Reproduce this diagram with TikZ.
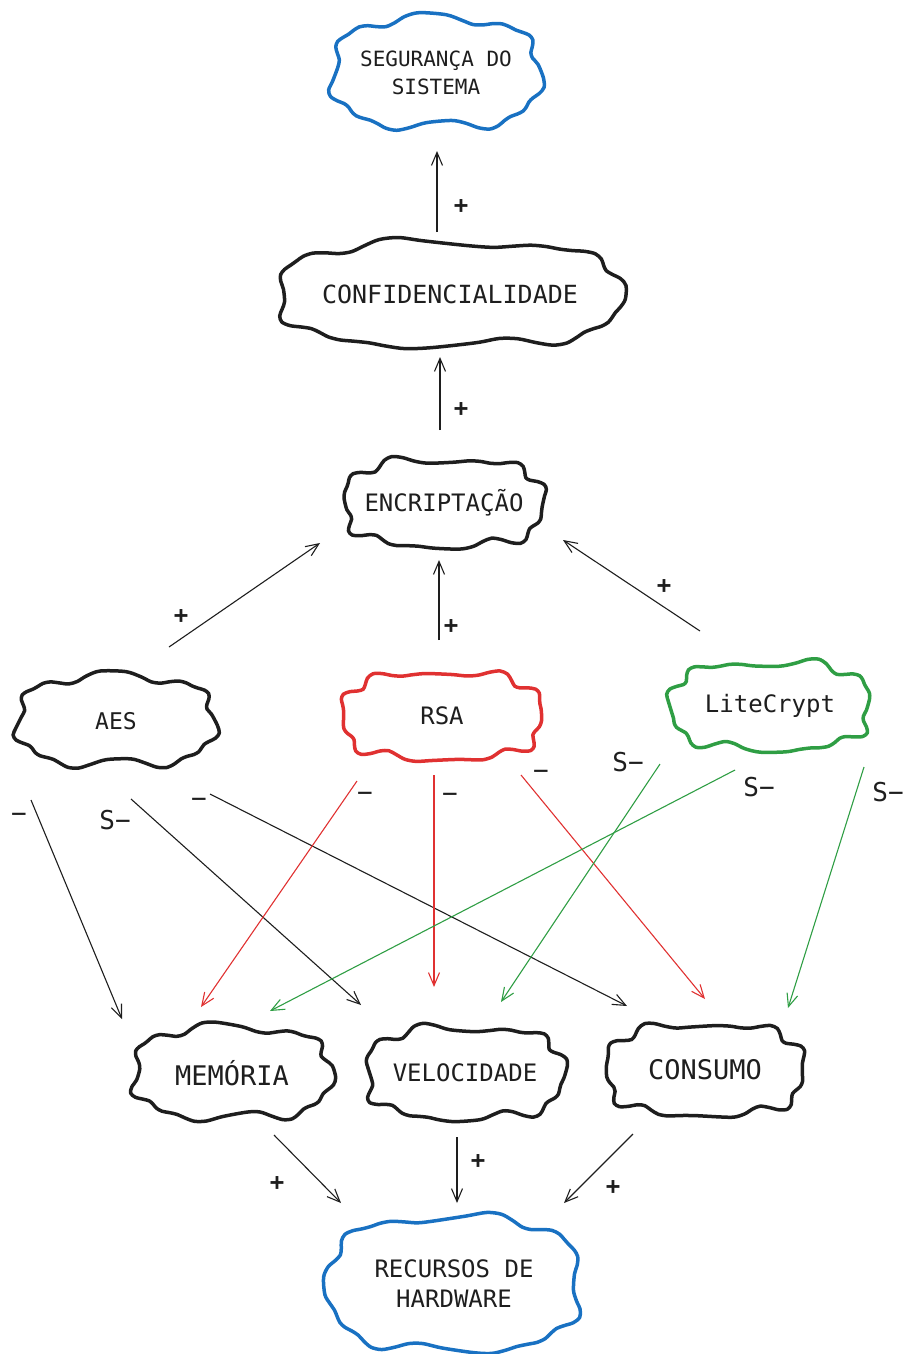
\documentclass[tikz,border=0pt]{standalone}
\usepackage{fontspec}
\setmonofont{DejaVu Sans Mono}
\usetikzlibrary{arrows.meta,calc}
\definecolor{ink}{HTML}{1E1E1E}
\definecolor{cblue}{HTML}{1971C2}
\definecolor{cred}{HTML}{E03131}
\definecolor{cgreen}{HTML}{2F9E44}
\tikzset{
  cloudline/.style={line width=3.5pt, line join=round},
  txt/.style={font=\ttfamily, text=ink, align=center, inner sep=0pt},
  lbl/.style={font=\ttfamily\fontsize{26}{28}\selectfont, text=ink, inner sep=0pt},
  plbl/.style={lbl, font=\ttfamily\bfseries\fontsize{24}{28}\selectfont},
  arr/.style={line width=1.1pt, draw=ink, -{Straight Barb[length=13pt,width=11pt,line width=1.1pt]}},
  arrred/.style={arr, draw=cred},
  arrgreen/.style={arr, draw=cgreen},
}
% #1 node, #2 rx, #3 ry, #4 phase, #5 colour
\newcommand{\mycloud}[5]{%
  \draw[cloudline, draw=#5, shift={(#1.center)}]
    plot[smooth cycle, variable=\t, samples at={2,8,...,356}]
    ({#2*(cos(\t)<0?-1:1)*pow(abs(cos(\t)),0.7)+(3.5*sin(7*\t+#4)+3*sin(11*\t+2*#4))*cos(\t)},
     {#3*(sin(\t)<0?-1:1)*pow(abs(sin(\t)),0.7)+(3.5*sin(7*\t+#4)+3*sin(11*\t+2*#4))*sin(\t)});}
\begin{document}
\begin{tikzpicture}[x=1pt,y=-1pt]
\useasboundingbox (0,0) rectangle (903,1354);
% nodes
\node[txt, font=\ttfamily\fontsize{21}{28}\selectfont] (seg) at (436,73) {SEGURANÇA DO\\SISTEMA};
\node[txt, font=\ttfamily\fontsize{25}{28}\selectfont] (conf) at (450,294) {CONFIDENCIALIDADE};
\node[txt, font=\ttfamily\fontsize{24}{28}\selectfont] (enc) at (444,503) {ENCRIPTAÇÃO};
\node[txt, font=\ttfamily\fontsize{23}{28}\selectfont] (aes) at (116,721) {AES};
\node[txt, font=\ttfamily\fontsize{24}{28}\selectfont] (rsa) at (442,716) {RSA};
\node[txt, font=\ttfamily\fontsize{24}{28}\selectfont] (lite) at (770,706) {LiteCrypt};
\node[txt, font=\ttfamily\fontsize{27}{28}\selectfont] (mem) at (232,1073) {MEMÓRIA};
\node[txt, font=\ttfamily\fontsize{24}{28}\selectfont] (vel) at (465,1073) {VELOCIDADE};
\node[txt, font=\ttfamily\fontsize{27}{28}\selectfont] (cons) at (705,1070) {CONSUMO};
\node[txt, font=\ttfamily\fontsize{24}{30}\selectfont] (rec) at (454,1284) {RECURSOS DE\\HARDWARE};
% clouds
\mycloud{seg}{103}{54}{20}{cblue}
\mycloud{conf}{171}{51}{70}{ink}
\mycloud{enc}{99}{43}{130}{ink}
\mycloud{aes}{98}{44}{10}{ink}
\mycloud{rsa}{99}{43}{200}{cred}
\mycloud{lite}{99}{43}{250}{cgreen}
\mycloud{mem}{98}{45}{40}{ink}
\mycloud{vel}{98}{45}{100}{ink}
\mycloud{cons}{98}{45}{160}{ink}
\mycloud{rec}{125}{66}{300}{cblue}
% connectors
\draw[arr] ($(conf)+(-13,-62)$) -- ($(seg)+(1,78)$);
\draw[arr] ($(enc)+(-4,-73)$) -- ($(conf)+(-10,63)$);
\draw[arr] ($(aes)+(53,-74)$) -- ($(enc)+(-124,40)$);
\draw[arr] ($(rsa)+(-3,-76)$) -- ($(enc)+(-5,57)$);
\draw[arr] ($(lite)+(-70,-75)$) -- ($(enc)+(119,37)$);
\draw[arr] ($(aes)+(-85,79)$) -- ($(mem)+(-110,-54)$);
\draw[arr] ($(aes)+(15,78)$) -- ($(vel)+(-104,-68)$);
\draw[arr] ($(aes)+(94,73)$) -- ($(cons)+(-78,-64)$);
\draw[arrred] ($(rsa)+(-85,65)$) -- ($(mem)+(-31,-66)$);
\draw[arrred] ($(rsa)+(-8,59)$) -- ($(vel)+(-31,-86)$);
\draw[arrred] ($(rsa)+(79,59)$) -- ($(cons)+(0,-71)$);
\draw[arrgreen] ($(lite)+(-110,58)$) -- ($(vel)+(36,-71)$);
\draw[arrgreen] ($(lite)+(-35,64)$) -- ($(mem)+(38,-62)$);
\draw[arrgreen] ($(lite)+(94,61)$) -- ($(cons)+(83,-62)$);
\draw[arr] ($(mem)+(42,62)$) -- ($(rec)+(-113,-81)$);
\draw[arr] ($(vel)+(-8,64)$) -- ($(rec)+(3,-81)$);
\draw[arr] ($(cons)+(-72,64)$) -- ($(rec)+(110,-81)$);
% labels
\node[plbl] (l1) at (461,207) {+};
\node[plbl] (l2) at (461,410) {+};
\node[plbl] (l3) at (181,617) {+};
\node[plbl] (l4) at (451,627) {+};
\node[plbl] (l5) at (664,587) {+};
\node[lbl] (l6) at (19,818) {−};
\node[lbl] (l7) at (115,820) {S−};
\node[lbl] (l8) at (199,803) {−};
\node[lbl] (l9) at (365,797) {−};
\node[lbl] (l10) at (450,798) {−};
\node[lbl] (l11) at (541,775) {−};
\node[lbl] (l12) at (628,762) {S−};
\node[lbl] (l13) at (759,787) {S−};
\node[lbl] (l14) at (888,792) {S−};
\node[plbl] (l15) at (277,1184) {+};
\node[plbl] (l16) at (478,1162) {+};
\node[plbl] (l17) at (613,1187) {+};
\end{tikzpicture}
\end{document}
